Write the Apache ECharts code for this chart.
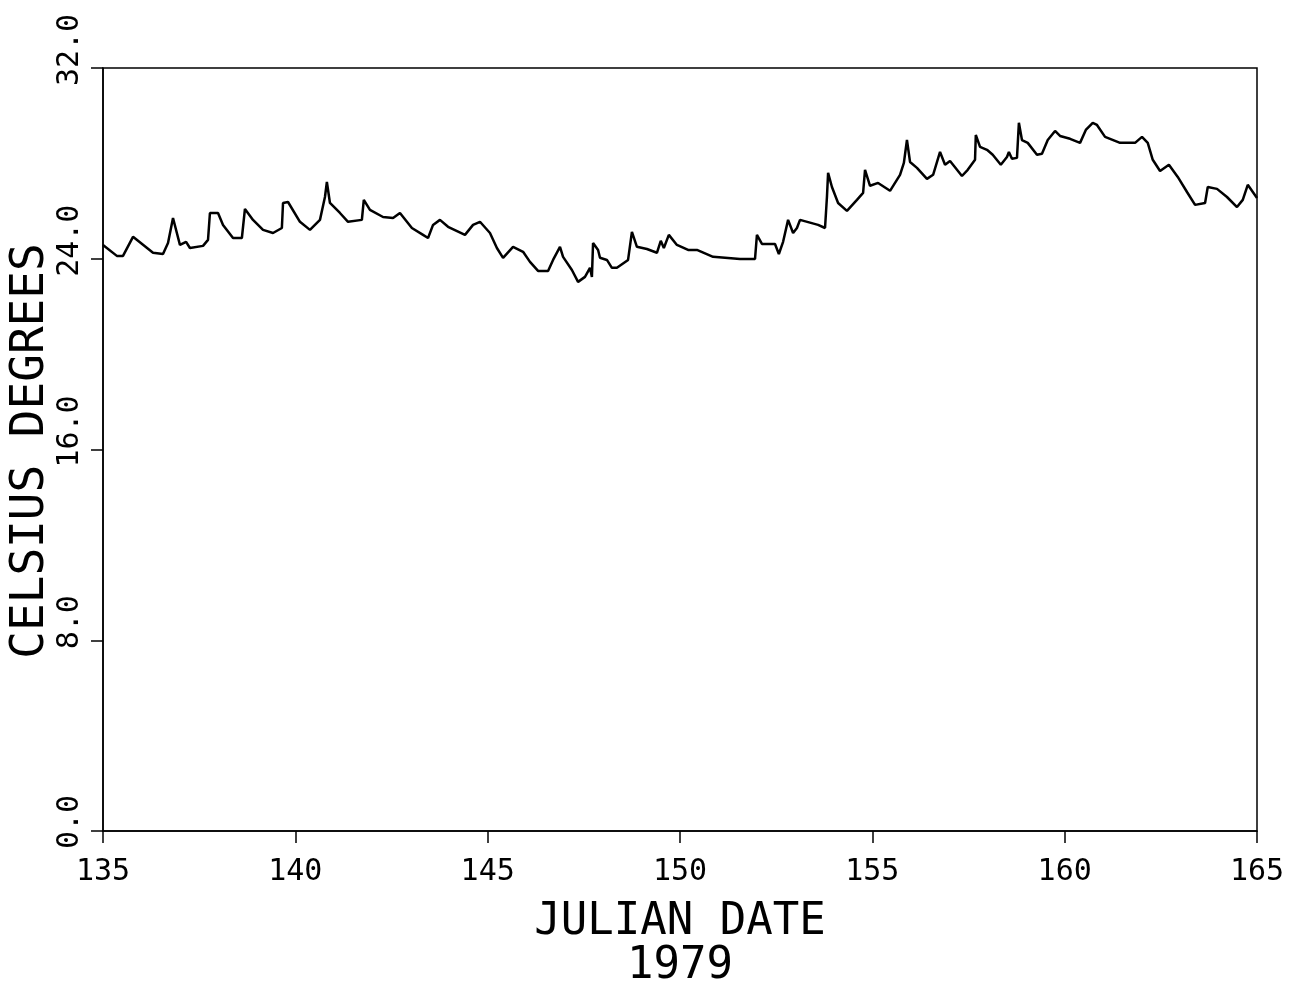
<!DOCTYPE html>
<html>
<head>
<meta charset="utf-8">
<script src="https://cdn.jsdelivr.net/npm/echarts@6/dist/echarts.min.js"></script>
<style>
  html, body { margin: 0; padding: 0; background: #fff; }
  #chart { width: 1303px; height: 988px; }
</style>
</head>
<body>
<div id="chart"></div>
<script>
// julian day (1979) and water temperature
var days = [
  135.00, 135.36, 135.52, 135.78, 136.30, 136.56, 136.69, 136.82, 137.00, 137.16,
  137.26, 137.60, 137.73, 137.78, 137.99, 138.12, 138.38, 138.61, 138.69, 138.90,
  139.16, 139.42, 139.65, 139.68, 139.81, 140.12, 140.38, 140.64, 140.77, 140.82,
  140.90, 141.16, 141.37, 141.73, 141.78, 141.94, 142.28, 142.54, 142.72, 143.03,
  143.32, 143.45, 143.58, 143.76, 143.97, 144.41, 144.62, 144.80, 145.06, 145.24,
  145.40, 145.66, 145.92, 146.10, 146.31, 146.57, 146.70, 146.88, 146.96, 147.19,
  147.35, 147.53, 147.66, 147.71, 147.74, 147.87, 147.92, 148.10, 148.23, 148.36,
  148.65, 148.75, 148.88, 149.14, 149.40, 149.50, 149.58, 149.71, 149.92, 150.21,
  150.44, 150.86, 151.56, 151.95, 152.00, 152.13, 152.47, 152.57, 152.68, 152.81,
  152.94, 153.04, 153.12, 153.59, 153.77, 153.82, 153.85, 153.95, 154.11, 154.34,
  154.60, 154.76, 154.81, 154.94, 155.15, 155.46, 155.72, 155.82, 155.90, 155.98,
  156.16, 156.42, 156.58, 156.76, 156.89, 157.02, 157.33, 157.48, 157.67, 157.69,
  157.80, 157.98, 158.13, 158.34, 158.50, 158.55, 158.63, 158.76, 158.81, 158.89,
  159.04, 159.28, 159.41, 159.56, 159.75, 159.88, 160.14, 160.40, 160.55, 160.73,
  160.84, 161.05, 161.44, 161.83, 162.01, 162.16, 162.29, 162.48, 162.71, 162.94,
  163.18, 163.39, 163.65, 163.72, 163.96, 164.22, 164.48, 164.63, 164.76, 165.00
];
var temps = [
  24.58, 24.12, 24.12, 24.92, 24.25, 24.20, 24.66, 25.71, 24.58, 24.71,
  24.45, 24.54, 24.79, 25.92, 25.92, 25.42, 24.87, 24.87, 26.09, 25.63,
  25.21, 25.08, 25.29, 26.34, 26.38, 25.55, 25.21, 25.63, 26.59, 27.22,
  26.34, 25.92, 25.55, 25.63, 26.47, 26.05, 25.75, 25.71, 25.92, 25.29,
  25.00, 24.87, 25.42, 25.63, 25.34, 25.00, 25.42, 25.55, 25.08, 24.45,
  24.04, 24.50, 24.29, 23.87, 23.49, 23.49, 23.95, 24.50, 24.08, 23.53,
  23.03, 23.24, 23.62, 23.24, 24.66, 24.37, 24.04, 23.95, 23.62, 23.62,
  23.95, 25.13, 24.50, 24.41, 24.25, 24.75, 24.45, 25.00, 24.58, 24.37,
  24.37, 24.08, 23.99, 23.99, 25.00, 24.62, 24.62, 24.20, 24.71, 25.63,
  25.08, 25.29, 25.63, 25.42, 25.29, 26.59, 27.60, 27.01, 26.34, 26.01,
  26.47, 26.76, 27.73, 27.06, 27.18, 26.85, 27.52, 28.02, 28.98, 28.06,
  27.81, 27.35, 27.52, 28.48, 27.94, 28.10, 27.47, 27.73, 28.15, 29.19,
  28.69, 28.57, 28.36, 27.94, 28.27, 28.48, 28.19, 28.23, 29.70, 28.98,
  28.86, 28.36, 28.40, 28.98, 29.36, 29.15, 29.03, 28.86, 29.40, 29.70,
  29.61, 29.11, 28.86, 28.86, 29.11, 28.86, 28.15, 27.68, 27.94, 27.43,
  26.80, 26.26, 26.34, 27.01, 26.93, 26.59, 26.17, 26.47, 27.10, 26.55
];

var xMin = 135, xMax = 165, xStep = 5;
var yMin = 0, yMax = 32, yStep = 8;
var yTitle = 'CELSIUS DEGREES';

var fontName = 'DejaVu Sans Mono';

var lineData = [];
for (var i = 0; i < days.length; i++) {
  lineData.push([days[i], temps[i]]);
}

var myChart = echarts.init(document.getElementById('chart'));
var option = {
  animation: false,
  backgroundColor: '#fff',
  grid: {
    left: 103,
    right: 46,
    top: 68,
    bottom: 157,
    outerBoundsMode: 'none',
    containLabel: false,
    show: true,
    borderColor: '#000',
    borderWidth: 1.5,
    backgroundColor: 'transparent'
  },
  // y title drawn as a rotated text so it can sit where the plotter put it
  graphic: [
    {
      type: 'text',
      x: 31,
      y: 451,
      rotation: Math.PI / 2,
      style: {
        text: yTitle,
        fontFamily: fontName,
        fontSize: 46,
        fill: '#000',
        align: 'center',
        verticalAlign: 'middle'
      }
    }
  ],
  xAxis: {
    type: 'value',
    min: xMin,
    max: xMax,
    interval: xStep,
    name: 'JULIAN DATE\n1979',
    nameLocation: 'middle',
    nameGap: 70,
    nameTextStyle: {
      color: '#000',
      fontFamily: fontName,
      fontSize: 44,
      lineHeight: 44
    },
    axisLine: { lineStyle: { color: '#000', width: 1.5 } },
    axisTick: { inside: false, length: 12, lineStyle: { color: '#000', width: 1.5 } },
    axisLabel: {
      color: '#000',
      fontFamily: fontName,
      fontSize: 30,
      margin: 26
    },
    splitLine: { show: false }
  },
  yAxis: {
    type: 'value',
    min: yMin,
    max: yMax,
    interval: yStep,
    axisLine: { lineStyle: { color: '#000', width: 1.5 } },
    axisTick: { inside: false, length: 12, lineStyle: { color: '#000', width: 1.5 } },
    axisLabel: {
      color: '#000',
      fontFamily: fontName,
      fontSize: 30,
      rotate: 90,
      margin: 18,
      formatter: function (v) {
        return v === 0 ? '{a|' + v.toFixed(1) + '}' : '{b|' + v.toFixed(1) + '}';
      },
      rich: {
        a: { fontFamily: fontName, fontSize: 30, color: '#000', padding: [0, 0, 0, 18] },
        b: { fontFamily: fontName, fontSize: 30, color: '#000', padding: [0, 0, 0, 36] }
      }
    },
    splitLine: { show: false }
  },
  series: [
    {
      name: 'temperature',
      type: 'line',
      data: lineData,
      showSymbol: false,
      symbol: 'none',
      lineStyle: { color: '#000', width: 2.5 },
      clip: true
    }
  ]
};
myChart.setOption(option);
</script>
</body>
</html>
